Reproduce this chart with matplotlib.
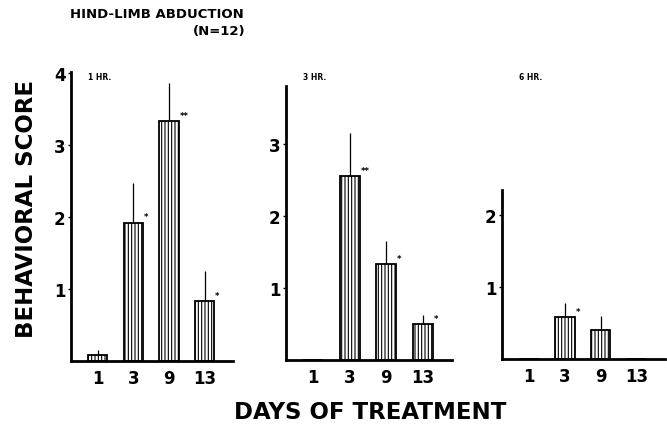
import numpy as np
import matplotlib
matplotlib.use("Agg")
import matplotlib.pyplot as plt

# ==============================
# DATA
# ==============================
days = ["1", "3", "9", "13"]
panels = ["1 HR.", "3 HR.", "6 HR."]

score_1hr = [0.08, 1.92, 3.33, 0.83]
err_1hr = [0.07, 0.55, 0.53, 0.42]
stars_1hr = ["", "*", "**", "*"]

score_3hr = [0.0, 2.55, 1.33, 0.50]
err_3hr = [0.0, 0.60, 0.32, 0.13]
stars_3hr = ["", "**", "*", "*"]

score_6hr = [0.0, 0.58, 0.40, 0.0]
err_6hr = [0.0, 0.20, 0.20, 0.0]
stars_6hr = ["", "*", "", ""]

scores = [score_1hr, score_3hr, score_6hr]
errors = [err_1hr, err_3hr, err_6hr]
stars = [stars_1hr, stars_3hr, stars_6hr]
ytops = [4.02, 3.8, 2.35]
yticks = [[1, 2, 3, 4], [1, 2, 3], [1, 2]]

# ==============================
# LAYOUT (pixel boxes)
# ==============================
W, H = 667, 427
boxes = [(71, 233, 362), (286, 452, 361), (502, 665, 360)]  # left, right, baseline
px_per_unit = 72

plt.rcParams["font.family"] = "DejaVu Sans"
plt.rcParams["font.weight"] = "bold"
plt.rcParams["hatch.linewidth"] = 0.8

fig = plt.figure(figsize=(W / 100, H / 100), dpi=100)

x = np.arange(len(days))
for i in range(3):
    left, right, base = boxes[i]
    top = base - ytops[i] * px_per_unit
    ax = fig.add_axes([left / W, 1 - base / H, (right - left) / W, (base - top) / H])

    ax.bar(x, scores[i], width=0.55, color="white", edgecolor="black",
           hatch="|||||", linewidth=1.3, zorder=2)
    ax.errorbar(x, scores[i], yerr=[np.zeros(4), errors[i]], fmt="none",
                ecolor="black", elinewidth=0.9, capsize=0, zorder=3)
    for xi, v, s in zip(x, scores[i], stars[i]):
        if s:
            ax.text(xi + 0.3, v + 0.02, s, fontsize=6, ha="left", va="bottom")

    ax.set_xlim(-0.75, 3.8)
    ax.set_ylim(0, ytops[i])
    ax.set_xticks(x)
    ax.set_xticklabels(days, fontsize=12, fontweight="bold")
    ax.set_yticks(yticks[i])
    ax.set_yticklabels([str(t) for t in yticks[i]], fontsize=12, fontweight="bold")
    ax.tick_params(axis="x", length=0, pad=6)
    ax.tick_params(axis="y", length=2, width=1, pad=2)
    for sp in ["top", "right"]:
        ax.spines[sp].set_visible(False)
    ax.spines["left"].set_linewidth(2)
    ax.spines["bottom"].set_linewidth(2)

    fig.text((left + 17) / W, 1 - 77 / H, panels[i], fontsize=5.5,
             fontweight="bold", va="center", ha="left")

# ==============================
# TEXT
# ==============================
fig.text(70 / W, 1 - 15 / H, "HIND-LIMB ABDUCTION", fontsize=9.5,
         fontweight="bold", va="center", ha="left")
fig.text(245 / W, 1 - 32 / H, "(N=12)", fontsize=9.5,
         fontweight="bold", va="center", ha="right")
fig.text(27 / W, 1 - 209 / H, "BEHAVIORAL SCORE", fontsize=16.5,
         fontweight="bold", rotation=90, va="center", ha="center")
fig.text(370 / W, 1 - 413 / H, "DAYS OF TREATMENT", fontsize=16.5,
         fontweight="bold", va="center", ha="center")

fig.savefig("out.png", dpi=100)
